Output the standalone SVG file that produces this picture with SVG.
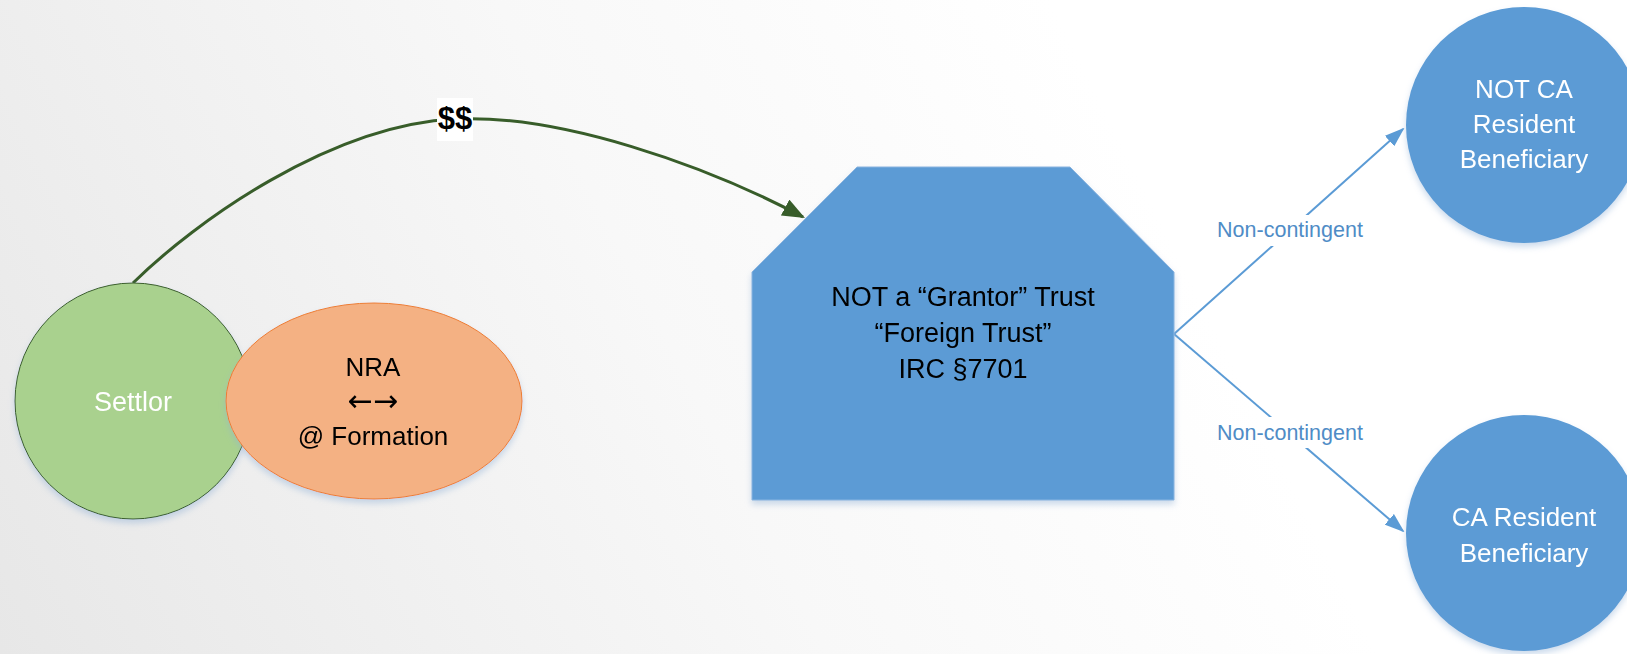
<svg xmlns="http://www.w3.org/2000/svg" width="1627" height="654" viewBox="0 0 1627 654">
  <style>
    .node-text { font-family: "Liberation Sans", Arial, sans-serif; font-size: 26px; text-anchor: middle; }
    .big { font-size: 27px; }
    .arrows { font-family: "DejaVu Sans", sans-serif; font-size: 30px; }
    .light { fill: #ffffff; }
    .dark { fill: #000000; }
    .edge-label { font-family: "Liberation Sans", Arial, sans-serif; font-size: 21.5px; fill: #4f8cc6; text-anchor: middle; }
    .blue-edge { fill: none; stroke: #5b9bd5; stroke-width: 2; }
    .money-edge { fill: none; stroke: #385d2a; stroke-width: 3; }
  </style>
  <defs>
    <linearGradient id="bg" gradientUnits="userSpaceOnUse" x1="0" y1="654" x2="1100" y2="100">
      <stop offset="0" stop-color="#e7e7e7"/>
      <stop offset="0.6" stop-color="#f8f8f8"/>
      <stop offset="1" stop-color="#ffffff"/>
    </linearGradient>
    <filter id="shadow" x="-20%" y="-20%" width="140%" height="140%">
      <feDropShadow dx="0" dy="4" stdDeviation="3" flood-color="#8fb0d6" flood-opacity="0.45"/>
    </filter>
    <marker id="arrow-green" viewBox="0 0 10 8" refX="9" refY="4" markerWidth="7.5" markerHeight="6" markerUnits="strokeWidth" orient="auto">
      <path d="M0,0 L10,4 L0,8 z" fill="#385d2a"/>
    </marker>
    <marker id="arrow-blue" viewBox="0 0 10 7" refX="9" refY="3.5" markerWidth="10" markerHeight="7" markerUnits="strokeWidth" orient="auto">
      <path d="M0,0 L10,3.5 L0,7 z" fill="#5b9bd5"/>
    </marker>
  </defs>

  <rect width="1627" height="654" fill="url(#bg)"/>

  <!-- connectors -->
  <g id="connectors">
    <path class="money-edge" d="M133,283 C195,222 330,125 455,119 C560,114 705,165 803,217" marker-end="url(#arrow-green)"/>
    <rect x="437" y="98" width="36" height="43" fill="#ffffff"/>
    <text x="455" y="129" font-family="Liberation Sans, Arial, sans-serif" font-size="31" font-weight="bold" text-anchor="middle" fill="#000000">$$</text>

    <line class="blue-edge" x1="1174" y1="334" x2="1403" y2="129" marker-end="url(#arrow-blue)"/>
    <line class="blue-edge" x1="1174" y1="334" x2="1403" y2="531" marker-end="url(#arrow-blue)"/>
    <rect x="1213" y="215" width="154" height="31" fill="url(#bg)"/>
    <text class="edge-label" x="1290" y="237">Non-contingent</text>
    <rect x="1213" y="417" width="154" height="31" fill="url(#bg)"/>
    <text class="edge-label" x="1290" y="440">Non-contingent</text>
  </g>

  <!-- settlor -->
  <g id="settlor" filter="url(#shadow)">
    <ellipse cx="133" cy="401" rx="118" ry="118" fill="#a9d18e" stroke="#3b5e2b" stroke-width="1"/>
    <text class="node-text big light" x="133" y="411">Settlor</text>
  </g>

  <!-- residency status -->
  <g id="nra" filter="url(#shadow)">
    <ellipse cx="374" cy="401" rx="148" ry="98" fill="#f4b183" stroke="#ed7d31" stroke-width="1"/>
    <text class="node-text dark" x="373" y="376">NRA</text>
    <text class="node-text arrows dark" x="373" y="411">←→</text>
    <text class="node-text dark" x="373" y="445">@ Formation</text>
  </g>

  <!-- trust -->
  <g id="trust" filter="url(#shadow)">
    <polygon points="857,167 1070,167 1174,272 1174,500 752,500 752,272" fill="#5b9bd5" stroke="#8ab4e0" stroke-width="1"/>
    <text class="node-text big dark" x="963" y="306">NOT a “Grantor” Trust</text>
    <text class="node-text big dark" x="963" y="342">“Foreign Trust”</text>
    <text class="node-text big dark" x="963" y="378">IRC §7701</text>
  </g>

  <!-- beneficiaries -->
  <g id="beneficiary-non-ca" filter="url(#shadow)">
    <circle cx="1524" cy="125" r="118" fill="#5b9bd5"/>
    <text class="node-text light" x="1524" y="98">NOT CA</text>
    <text class="node-text light" x="1524" y="133">Resident</text>
    <text class="node-text light" x="1524" y="168">Beneficiary</text>
  </g>

  <g id="beneficiary-ca" filter="url(#shadow)">
    <circle cx="1524" cy="533" r="118" fill="#5b9bd5"/>
    <text class="node-text light" x="1524" y="526">CA Resident</text>
    <text class="node-text light" x="1524" y="562">Beneficiary</text>
  </g>
</svg>
